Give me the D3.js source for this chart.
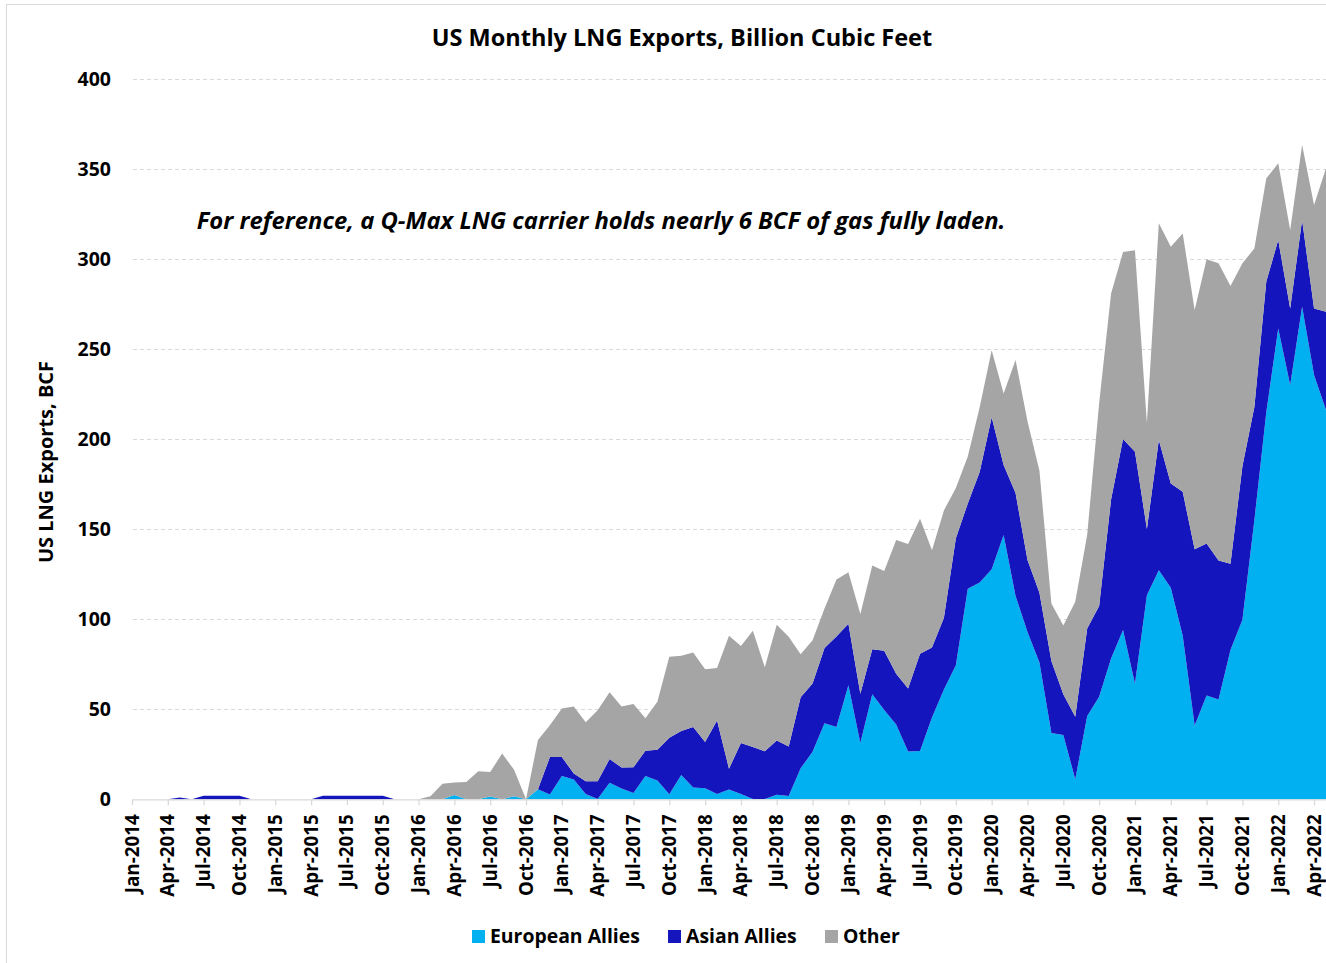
<!DOCTYPE html>
<html>
<head>
<meta charset="utf-8">
<script src="https://cdn.jsdelivr.net/npm/d3@7"></script>
<style>
  body { margin: 0; background: #fff; }
  svg { display: block; }
  text { font-family: "Open Sans", Lato, sans-serif; fill: #000; }
</style>
</head>
<body>
<svg id="chart" width="1326" height="963"></svg>
<script>
// Monthly US LNG exports by destination group, billion cubic feet (Jan-2014 .. May-2022)
const seriesKeys = ["european", "asian", "other"];
const seriesNames = ["European Allies", "Asian Allies", "Other"];
const seriesColors = ["#00B0F0", "#1515BE", "#A5A5A5"];

const european = [
  0, 0, 0, 0, 0, 0, 0, 0, 0, 0, 0, 0,
  0, 0, 0, 0, 0, 0, 0, 0, 0, 0, 0, 0,
  0, 0, 0, 2.4, 0, 0, 1.5, 0, 1.7, 0, 5.6, 2.6,
  13, 11, 3, 0.2, 9.2, 6, 3.5, 13, 10.4, 2.8, 13.5, 6.5,
  6.1, 2.9, 5.5, 2.9, 0.2, 0.2, 2.5, 1.8, 17.2, 26.4, 42.2, 40.1,
  63.3, 31.3, 58.4, 49.6, 41.5, 26.6, 26.8, 45.5, 61, 74.5, 117, 120.4,
  127.8, 146.8, 113, 93, 76, 36.8, 35.7, 11.1, 46.3, 57, 78.2, 94,
  64.2, 113.4, 127.2, 117.5, 90.8, 41, 57.6, 55.5, 83, 99.7, 155, 215,
  261.5, 230.2, 273.7, 235.7, 216.3
];
const asian = [
  0, 0, 0, 0, 1, 0, 2, 2, 2, 2, 0, 0,
  0, 0, 0, 0, 2, 2, 2, 2, 2, 2, 0, 0,
  0, 0, 0, 0, 0, 0, 0, 0, 0, 0, 0, 20.9,
  10.5, 3.3, 7, 9.8, 13.2, 11.6, 14.3, 14, 17.1, 31.4, 24.5, 33.7,
  25.7, 40.9, 11.5, 28.4, 28.8, 26.5, 30.1, 27.5, 39.5, 38, 41.9, 50.3,
  34.2, 27.3, 25, 32.9, 28.2, 34.9, 54.1, 38.9, 39.8, 70.5, 47.4, 61.6,
  84.4, 38.9, 57.1, 40, 38.8, 40, 22.6, 34.7, 48.6, 50.4, 88.4, 106.2,
  128.9, 36.8, 72.4, 58, 80, 97.9, 84.5, 77.1, 47.8, 85.3, 63, 72.6,
  49.2, 42.5, 48.1, 37, 54.6
];
const other = [
  0, 0, 0, 0, 0, 0, 0, 0, 0, 0, 0, 0,
  0, 0, 0, 0, 0, 0, 0, 0, 0, 0, 0, 0,
  0, 1.7, 8.7, 7, 9.6, 15.6, 13.7, 25.4, 14.7, 0, 27.4, 17.7,
  27, 37.2, 32.8, 39.5, 37.1, 34, 35.2, 18, 26.7, 45, 41.7, 41.4,
  40.4, 29.2, 73.8, 53.8, 64.6, 46.7, 64.4, 61, 23.9, 24, 21.9, 31.7,
  28.7, 44.3, 46.5, 44.3, 74.3, 80.3, 75, 53.9, 59.7, 28, 26, 36,
  37.3, 39.8, 73.9, 77, 67.7, 32, 38.2, 63.9, 52.1, 112.6, 114.4, 103.8,
  111.9, 58.8, 120.4, 131.5, 143.6, 132.9, 157.9, 165.2, 154.4, 112.8, 88, 57.4,
  42.6, 43.6, 41.7, 57.5, 79.7
];

const yTicks = [0, 50, 100, 150, 200, 250, 300, 350, 400];
const tickLabels = [
  "Jan-2014", "Apr-2014", "Jul-2014", "Oct-2014", "Jan-2015", "Apr-2015", "Jul-2015", "Oct-2015",
  "Jan-2016", "Apr-2016", "Jul-2016", "Oct-2016", "Jan-2017", "Apr-2017", "Jul-2017", "Oct-2017",
  "Jan-2018", "Apr-2018", "Jul-2018", "Oct-2018", "Jan-2019", "Apr-2019", "Jul-2019", "Oct-2019",
  "Jan-2020", "Apr-2020", "Jul-2020", "Oct-2020", "Jan-2021", "Apr-2021", "Jul-2021", "Oct-2021",
  "Jan-2022", "Apr-2022"
];

const fmtMonth = d3.timeFormat("%b-%Y");
const monthLabels = d3.timeMonth.range(new Date(2014, 0, 1), new Date(2022, 5, 1)).map(fmtMonth);

const rows = monthLabels.map((m, i) => ({
  month: m, european: european[i], asian: asian[i], other: other[i]
}));

const svg = d3.select("#chart");
const W = 1326, H = 963;

// chart frame
svg.append("rect")
  .attr("x", 6.5).attr("y", 4.5)
  .attr("width", W + 10).attr("height", H + 10)
  .attr("fill", "#fff").attr("stroke", "#D9D9D9").attr("stroke-width", 1);

const x = d3.scalePoint().domain(monthLabels).range([132, 1326]);
const y = d3.scaleLinear().domain([0, 400]).range([799.3, 79.3]);

// horizontal gridlines
svg.append("g")
  .selectAll("line")
  .data(yTicks.filter(d => d > 0))
  .join("line")
  .attr("x1", 133).attr("x2", W)
  .attr("y1", d => Math.round(y(d)) + 0.5).attr("y2", d => Math.round(y(d)) + 0.5)
  .attr("stroke", "#D9D9D9").attr("stroke-width", 1.2)
  .attr("stroke-dasharray", "4,3");

// stacked areas
const stacked = d3.stack().keys(seriesKeys)(rows);
const area = d3.area()
  .x(d => x(d.data.month))
  .y0(d => y(d[0]))
  .y1(d => y(d[1]));

svg.append("g")
  .selectAll("path")
  .data(stacked)
  .join("path")
  .attr("d", area)
  .attr("fill", (d, i) => seriesColors[i]);

// x axis
const xAxis = d3.axisBottom(x)
  .tickValues(tickLabels)
  .tickSize(6)
  .tickSizeOuter(0);

const gx = svg.append("g")
  .attr("transform", `translate(0,${y(0)})`)
  .call(xAxis);
gx.select(".domain").attr("stroke", "#D9D9D9").attr("stroke-width", 1.3);
gx.selectAll(".tick line").attr("stroke", "#D9D9D9").attr("stroke-width", 1.3);
gx.selectAll(".tick text")
  .attr("transform", "translate(0,15) rotate(-90)")
  .attr("x", 0).attr("y", 0)
  .attr("dy", "0.32em")
  .attr("text-anchor", "end")
  .style("font-size", "18.8px")
  .style("font-weight", "700")
  .style("font-family", "'Open Sans', sans-serif")
  .attr("fill", "#000");

// y axis labels
svg.append("g")
  .selectAll("text")
  .data(yTicks)
  .join("text")
  .attr("x", 111)
  .attr("y", d => y(d))
  .attr("dy", "0.35em")
  .attr("text-anchor", "end")
  .style("font-size", "19.5px")
  .style("font-weight", "700")
  .text(d => d);

// y axis title
svg.append("text")
  .attr("transform", `translate(53,462) rotate(-90)`)
  .attr("text-anchor", "middle")
  .style("font-size", "20px")
  .style("font-weight", "700")
  .text("US LNG Exports, BCF");

// title
svg.append("text")
  .attr("x", 682).attr("y", 46)
  .attr("text-anchor", "middle")
  .style("font-size", "23.5px")
  .style("font-weight", "700")
  .text("US Monthly LNG Exports, Billion Cubic Feet");

// note
svg.append("text")
  .attr("x", 601).attr("y", 229)
  .attr("text-anchor", "middle")
  .style("font-size", "23.8px")
  .style("font-weight", "700")
  .style("font-style", "italic")
  .text("For reference, a Q-Max LNG carrier holds nearly 6 BCF of gas fully laden.");

// legend
const legendX = [472, 668, 825];
const lg = svg.append("g")
  .selectAll("g")
  .data(seriesNames)
  .join("g")
  .attr("transform", (d, i) => `translate(${legendX[i]},930)`);
lg.append("rect")
  .attr("width", 13).attr("height", 13)
  .attr("fill", (d, i) => seriesColors[i]);
lg.append("text")
  .attr("x", 18).attr("y", 6.5)
  .attr("dy", "0.36em")
  .style("font-size", "19.4px")
  .style("font-weight", "700")
  .text(d => d);
</script>
</body>
</html>
